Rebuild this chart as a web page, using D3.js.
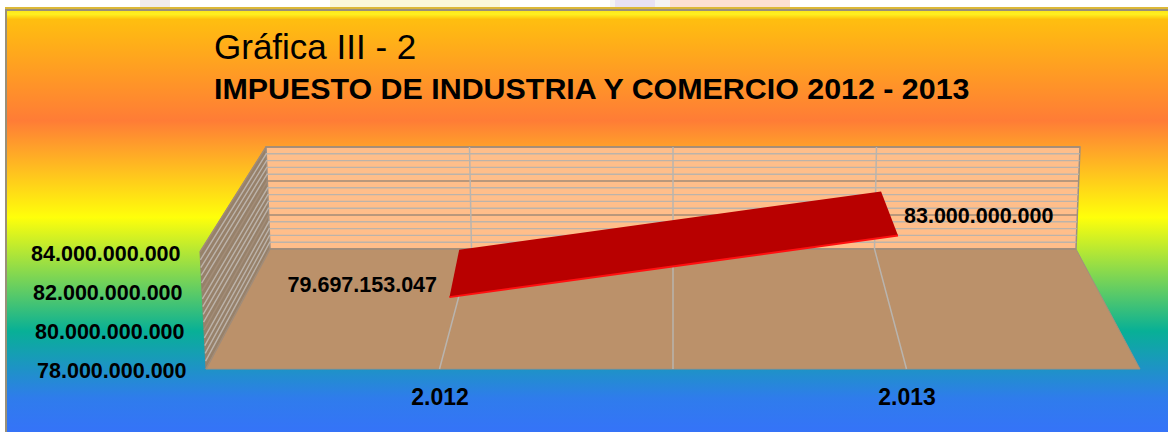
<!DOCTYPE html>
<html><head><meta charset="utf-8">
<style>html,body{margin:0;padding:0;background:#fff}svg{display:block}text{font-family:"Liberation Sans",Arial,sans-serif;fill:#000}</style>
<script src="https://cdn.jsdelivr.net/npm/d3@7/dist/d3.min.js"></script>
</head><body><svg id="c" width="1168" height="432"></svg>
<script>
const categories = ["2.012","2.013"];
const seriesValues = [79697153047, 83000000000];
const seriesLabels = ["79.697.153.047","83.000.000.000"];
const axisTicks = [78e9,80e9,82e9,84e9];
const axisTickLabels = ["78.000.000.000","80.000.000.000","82.000.000.000","84.000.000.000"];
const minorStep = 0.4e9;
const titleLines = ["Gráfica III - 2","IMPUESTO DE INDUSTRIA Y COMERCIO 2012 - 2013"];

const svg = d3.select("#c");
const defs = svg.append("defs");
const g = defs.append("linearGradient").attr("id","bg").attr("x1",0).attr("x2",0).attr("y1",0).attr("y2",1);
[[0,"#ffc40c"],[.26,"#ff7c36"],[.49,"#ffff0a"],[.76,"#08b096"],[.92,"#2f7cec"],[1,"#3573f8"]].forEach(s=>g.append("stop").attr("offset",s[0]).attr("stop-color",s[1]));
const hl = defs.append("linearGradient").attr("id","hl").attr("x1",0).attr("x2",0).attr("y1",0).attr("y2",1);
[[0,"#ffe81a"],[.4,"#fff020"],[1,"#ffc40c"]].forEach(s=>hl.append("stop").attr("offset",s[0]).attr("stop-color",s[1]));

// page strip + frame
svg.append("rect").attr("width",1168).attr("height",432).attr("fill","#ffffff");
[[330,170,"#fbf8d8"],[610,60,"#f4f4f4"],[615,40,"#e8e2f4"],[670,120,"#fde0d2"],[140,30,"#f0ecec"]].forEach(p=>
  svg.append("rect").attr("x",p[0]).attr("y",0).attr("width",p[1]).attr("height",7).attr("fill",p[2]));
svg.append("rect").attr("x",5).attr("y",7).attr("width",1163).attr("height",425).attr("fill","#dcb838");
svg.append("rect").attr("x",5).attr("y",9).attr("width",1163).attr("height",423).attr("fill","#9a9078");
svg.append("rect").attr("x",7).attr("y",11).attr("width",1161).attr("height",421).attr("fill","url(#bg)");
svg.append("rect").attr("x",7).attr("y",11).attr("width",1161).attr("height",8).attr("fill","url(#hl)");

// projection: u across categories, f = value fraction, d = depth (0 front, 1 back)
const yV = d3.scaleLinear().domain([78e9,84e9]).range([0,1]);
const frontFloorY=369, frontTopY=252, backFloorY=249, backTopY=147;
const leftX = {fb:206, ft:200, bb:270, bt:266}, rightX = {fb:1140, ft:1146, bb:1076, bt:1080};
const lerp = (a,b,t)=>d3.interpolateNumber(a,b)(t);
function P(u,f,d){
  const l = lerp(lerp(leftX.fb,leftX.ft,f), lerp(leftX.bb,leftX.bt,f), d);
  const r = lerp(lerp(rightX.fb,rightX.ft,f), lerp(rightX.bb,rightX.bt,f), d);
  const y = lerp(lerp(frontFloorY,frontTopY,f), lerp(backFloorY,backTopY,f), d);
  return [d3.scaleLinear().domain([0,1]).range([l,r])(u), y];
}
const xU = d3.scalePoint().domain(categories).range([0,1]).padding(.5);
const poly = pts => "M"+pts.map(p=>p.join(",")).join("L")+"Z";

// walls
svg.append("path").attr("d",poly([P(0,0,0),P(0,1,0),P(0,1,1),P(0,0,1)])).attr("fill","#97816a").attr("stroke","#93836f");
svg.append("path").attr("d",poly([P(0,0,1),P(0,1,1),P(1,1,1),P(1,0,1)])).attr("fill","#ffbe8a").attr("stroke","#9a8f84").attr("stroke-width",1.5);
svg.append("path").attr("d",poly([P(0,0,0),P(1,0,0),P(1,0,1),P(0,0,1)])).attr("fill","#bb916a").attr("stroke","#a0907f");

// gridlines
const minorTicks = d3.range(78e9, 84e9+1, minorStep);
const isMajor = v => Math.abs((v-78e9)/2e9 - Math.round((v-78e9)/2e9))<1e-6;
const line = d3.line();
svg.append("g").selectAll("path").data(minorTicks).join("path")
  .attr("d",v=>line([P(0,yV(v),0),P(0,yV(v),1),P(1,yV(v),1)]))
  .attr("fill","none")
  .attr("stroke",v=>isMajor(v)?"#a28c78":"#bcb3aa")
  .attr("stroke-width",v=>isMajor(v)?1.5:1.4);
// category boundaries
[0.25,0.5,0.75].forEach(u=>{
  svg.append("path").attr("d",line([P(u,0,0),P(u,0,1),P(u,1,1)])).attr("fill","none").attr("stroke","#b9b4ae").attr("stroke-width",1.5);
});

// ribbon
const dFront=.335, dBack=.745, backShift=-3.5;
const xs = categories.map(c=>xU(c)), fs = seriesValues.map(yV);
const backPt = i => { const p=P(xs[i],fs[i],dBack); return [p[0]+backShift,p[1]]; };
svg.append("path").attr("d",poly([P(xs[0],fs[0],dFront),backPt(0),backPt(1),P(xs[1],fs[1],dFront)])).attr("fill","#b80000");
svg.append("path").attr("d",line([P(xs[0],fs[0],dFront),P(xs[1],fs[1],dFront)])).attr("stroke","#ff1010").attr("stroke-width",2).attr("fill","none");

// axis labels
svg.append("g").selectAll("text").data(axisTicks).join("text")
  .attr("x",(v,i)=>P(0,yV(v),0)[0]-19.5).attr("y",(v,i)=>P(0,yV(v),0)[1]+9)
  .attr("text-anchor","end").attr("font-size",21.5).attr("font-weight","bold")
  .text((v,i)=>axisTickLabels[i]);
svg.append("g").selectAll("text").data(categories).join("text")
  .attr("x",c=>P(xU(c),0,0)[0]+.5).attr("y",405)
  .attr("text-anchor","middle").attr("font-size",23).attr("font-weight","bold").text(c=>c);

// data labels
svg.append("text").attr("x",437).attr("y",292).attr("text-anchor","end").attr("font-size",21.5).attr("font-weight","bold").text(seriesLabels[0]);
svg.append("text").attr("x",904).attr("y",223).attr("font-size",21.5).attr("font-weight","bold").text(seriesLabels[1]);

// titles
svg.append("text").attr("x",214).attr("y",59).attr("font-size",35).text(titleLines[0]);
svg.append("text").attr("x",214).attr("y",99).attr("font-size",30.4).attr("font-weight","bold").text(titleLines[1]);
</script></body></html>
